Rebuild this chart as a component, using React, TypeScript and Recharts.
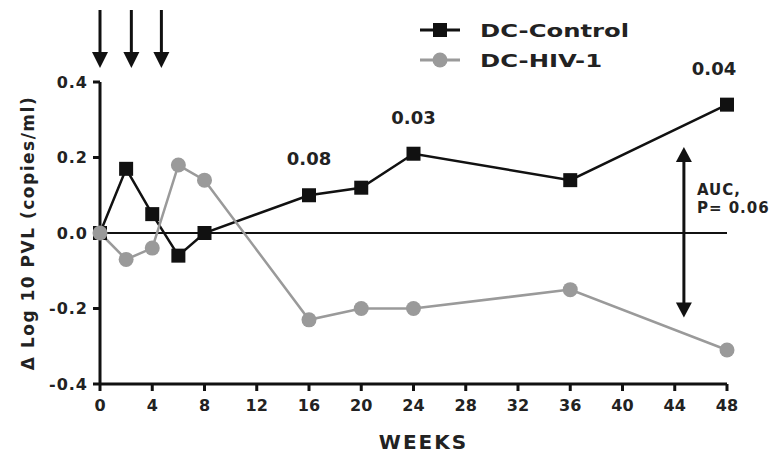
import {
  LineChart,
  Line,
  XAxis,
  YAxis,
  ReferenceLine,
  ReferenceDot,
  LabelList,
} from "recharts";

const weeks = [0, 2, 4, 6, 8, 16, 20, 24, 36, 48];
const dcControl = [0, 0.17, 0.05, -0.06, 0, 0.1, 0.12, 0.21, 0.14, 0.34];
const dcHiv = [0, -0.07, -0.04, 0.18, 0.14, -0.23, -0.2, -0.2, -0.15, -0.31];
const pValues = ["", "", "", "", "", "0.08", "", "0.03", "", "0.04"];

const xTicks = [0, 4, 8, 12, 16, 20, 24, 28, 32, 36, 40, 44, 48];
const yTicks = [-0.4, -0.2, 0, 0.2, 0.4];

// vaccination arrows above the plot, and the AUC comparison span
const doseWeeks = [0, 2.4, 4.7];
const aucWeek = 44.7;
const aucSpan = [0.228, -0.224];

const rows = weeks.map((w, i) => ({
  w,
  control: dcControl[i],
  hiv: dcHiv[i],
  p: pValues[i],
}));

const FONT = '"DejaVu Sans", Verdana, sans-serif';
const INK = "#111";
const GREY = "#9a9a9a";

function SquareDot({ cx, cy }: any) {
  if (cx == null || cy == null) return null;
  return <rect x={cx - 7} y={cy - 7} width={14} height={14} fill={INK} />;
}

function RoundDot({ cx, cy }: any) {
  if (cx == null || cy == null) return null;
  return <circle cx={cx} cy={cy} r={7.5} fill={GREY} />;
}

function DoseArrow({ cx, cy }: any) {
  if (cx == null || cy == null) return null;
  const tip = cy - 14;
  const top = cy - 72;
  return (
    <g>
      <line x1={cx} y1={top} x2={cx} y2={tip - 14} stroke={INK} strokeWidth={3} />
      <path d={`M${cx - 8},${tip - 16} L${cx + 8},${tip - 16} L${cx},${tip} Z`} fill={INK} />
    </g>
  );
}

function AucArrow(props: any) {
  const { x1, y1, x2, y2 } = props;
  if (x1 == null) return null;
  const top = Math.min(y1, y2);
  const bot = Math.max(y1, y2);
  return (
    <g>
      <line x1={x1} y1={top + 12} x2={x2} y2={bot - 12} stroke={INK} strokeWidth={3} />
      <path d={`M${x1 - 8},${top + 15} L${x1 + 8},${top + 15} L${x1},${top} Z`} fill={INK} />
      <path d={`M${x1 - 8},${bot - 15} L${x1 + 8},${bot - 15} L${x1},${bot} Z`} fill={INK} />
      <text x={x1 + 13} y={top + 48} fontFamily={FONT} fontWeight="bold" fontSize={15} letterSpacing={1} fill="#222">
        AUC,
      </text>
      <text x={x1 + 13} y={top + 66} fontFamily={FONT} fontWeight="bold" fontSize={15} letterSpacing={1} fill="#222">
        P= 0.06
      </text>
    </g>
  );
}

function PLabel({ x, y, index }: any) {
  const txt = pValues[index];
  if (!txt) return null;
  return (
    <text
      x={x - (index === weeks.length - 1 ? 13 : 0)}
      y={y - 30}
      textAnchor="middle"
      fontFamily={FONT}
      fontWeight="bold"
      fontSize={18}
      fill="#222"
    >
      {txt}
    </text>
  );
}

function YTitle({ viewBox }: any) {
  const cy = viewBox.y + viewBox.height / 2;
  return (
    <text
      x={28}
      y={cy}
      transform={`rotate(-90 28 ${cy})`}
      textAnchor="middle"
      dominantBaseline="central"
      fontFamily={FONT}
      fontWeight="bold"
      fontSize={17}
      letterSpacing={1.5}
      fill="#222"
    >
      Δ Log 10 PVL (copies/ml)
    </text>
  );
}

function LegendBox() {
  const item = (label: string, color: string, square: boolean) => (
    <div style={{ display: "flex", alignItems: "center", height: 30 }}>
      <svg width={44} height={20} style={{ marginRight: 18 }}>
        <line x1={2} y1={10} x2={42} y2={10} stroke={color} strokeWidth={3} />
        {square ? (
          <rect x={15} y={3} width={14} height={14} fill={color} />
        ) : (
          <circle cx={22} cy={10} r={7.5} fill={color} />
        )}
      </svg>
      <span
        style={{
          fontFamily: FONT,
          fontWeight: "bold",
          fontSize: 18,
          color: "#222",
          display: "inline-block",
          transform: "scaleX(1.35)",
          transformOrigin: "left center",
        }}
      >
        {label}
      </span>
    </div>
  );
  return (
    <div style={{ position: "absolute", left: 418, top: 15, width: 280 }}>
      {item("DC-Control", INK, true)}
      {item("DC-HIV-1", GREY, false)}
    </div>
  );
}

const tickStyle = { fill: "#222", fontSize: 16, fontWeight: "bold", fontFamily: FONT };

export default function App() {
  return (
    <div style={{ position: "fixed", left: 0, top: 0, width: 778, height: 455, background: "#fff" }}>
      <LineChart
        width={778}
        height={455}
        data={rows}
        margin={{ top: 82, right: 51, bottom: 0, left: 0 }}
      >
        <XAxis
          dataKey="w"
          type="number"
          domain={[0, 48]}
          ticks={xTicks}
          interval={0}
          height={71}
          tickSize={7}
          tickMargin={9}
          stroke={INK}
          strokeWidth={3}
          tick={tickStyle}
          label={{
            value: "WEEKS",
            position: "insideBottom",
            offset: 6,
            dx: 10,
            fill: "#222",
            fontSize: 20,
            fontWeight: "bold",
            fontFamily: FONT,
            letterSpacing: 2,
          }}
        />
        <YAxis
          type="number"
          domain={[-0.4, 0.4]}
          ticks={yTicks}
          interval={0}
          width={100}
          tickSize={7}
          tickMargin={5}
          stroke={INK}
          strokeWidth={3}
          tick={{ ...tickStyle, letterSpacing: 1 }}
          tickFormatter={(v: number) => v.toFixed(1)}
          label={<YTitle />}
        />
        <ReferenceLine y={0} stroke={INK} strokeWidth={2} />
        <ReferenceLine
          segment={[
            { x: aucWeek, y: aucSpan[0] },
            { x: aucWeek, y: aucSpan[1] },
          ]}
          ifOverflow="visible"
          shape={<AucArrow />}
        />
        {doseWeeks.map((d) => (
          <ReferenceDot
            key={d}
            x={d}
            y={0.4}
            ifOverflow="visible"
            shape={<DoseArrow />}
          />
        ))}
        <Line
          dataKey="control"
          name="DC-Control"
          stroke={INK}
          strokeWidth={2.5}
          dot={<SquareDot />}
          activeDot={false}
          isAnimationActive={false}
        >
          <LabelList dataKey="p" content={<PLabel />} />
        </Line>
        <Line
          dataKey="hiv"
          name="DC-HIV-1"
          stroke={GREY}
          strokeWidth={2.5}
          dot={<RoundDot />}
          activeDot={false}
          isAnimationActive={false}
        />
      </LineChart>
      <LegendBox />
    </div>
  );
}
